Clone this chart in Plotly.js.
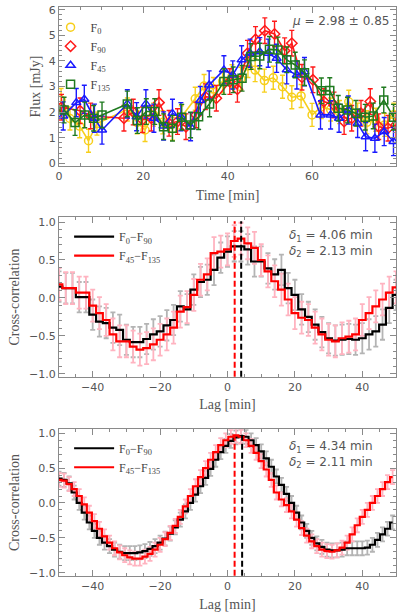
<!DOCTYPE html>
<html><head><meta charset="utf-8">
<script src="https://cdn.plot.ly/plotly-3.0.1.min.js"></script>
<style>html,body{margin:0;padding:0;background:#fff}#chart{width:399px;height:614px}</style>
</head><body><div id="chart"></div>
<script>
// ---------------- data: light curves (top panel) ----------------
const TIME_F0 = [0.5, 2.6, 4.9, 7.0, 9.0, 16.2, 18.5, 20.4, 22.4, 24.6, 26.9, 29.0, 32.3, 34.4, 36.6, 38.8, 41.0, 43.1, 44.8, 46.5, 48.7, 50.8, 53.0, 55.2, 57.4, 60.0, 62.2, 64.4, 66.5, 68.7, 70.8, 73.0, 75.1, 77.2, 79.4];
const FLUX_F0 = [2.47, 1.75, 1.45, 0.88, 1.55, 2.1, 1.6, 1.3, 1.9, 1.6, 1.35, 1.8, 2.52, 3.02, 2.9, 3.2, 3.4, 3.3, 3.8, 3.64, 3.23, 3.34, 2.99, 2.58, 2.63, 1.89, 2.2, 2.1, 2.0, 2.4, 1.9, 1.6, 1.7, 1.5, 1.9];
const TIME_F90 = [0.6, 5.0, 7.5, 15.4, 17.6, 19.8, 21.9, 23.7, 26.1, 28.1, 30.1, 32.5, 34.7, 37.3, 40.5, 42.3, 44.7, 46.6, 48.8, 51.1, 53.5, 55.2, 57.6, 60.2, 62.8, 65.2, 67.6, 69.4, 71.6, 73.8, 75.8, 78.0, 79.9];
const FLUX_F90 = [2.19, 2.05, 1.85, 1.76, 2.0, 1.7, 1.76, 2.37, 1.56, 1.63, 1.43, 1.89, 2.6, 2.54, 3.19, 2.89, 4.3, 4.84, 5.18, 5.05, 4.4, 4.69, 3.36, 3.26, 2.41, 2.28, 1.63, 1.76, 1.95, 2.41, 1.43, 1.37, 1.5];
const TIME_F45 = [1.0, 4.1, 6.0, 8.4, 10.2, 16.2, 18.4, 20.6, 22.5, 24.8, 26.9, 28.9, 31.2, 33.5, 35.6, 39.1, 41.2, 43.3, 45.3, 47.6, 49.6, 51.6, 54.0, 56.4, 58.2, 62.0, 64.4, 66.4, 68.6, 70.8, 72.7, 74.9, 77.1, 79.3];
const FLUX_F45 = [1.85, 2.37, 2.5, 1.76, 1.3, 2.32, 1.82, 2.32, 1.76, 1.46, 1.95, 1.82, 1.43, 2.45, 3.06, 3.65, 3.45, 4.04, 4.3, 4.36, 4.3, 4.1, 3.65, 3.45, 3.58, 1.89, 1.89, 1.76, 2.08, 1.56, 1.04, 0.98, 1.24, 0.85];
const TIME_F135 = [1.2, 3.8, 6.1, 8.2, 10.2, 16.2, 18.6, 20.7, 22.7, 24.8, 26.9, 29.1, 31.2, 33.1, 35.7, 39.1, 41.3, 43.4, 45.5, 47.6, 49.9, 51.9, 54.0, 56.0, 58.2, 62.2, 64.2, 66.2, 68.4, 70.4, 72.6, 74.5, 77.0, 79.3];
const FLUX_F135 = [2.08, 1.59, 1.89, 1.76, 1.89, 2.32, 1.67, 2.02, 2.02, 1.43, 1.37, 1.8, 1.5, 1.82, 2.32, 3.19, 3.26, 3.32, 4.17, 4.19, 4.45, 4.43, 4.04, 3.84, 3.54, 2.83, 2.84, 2.15, 2.08, 1.95, 1.8, 1.85, 2.47, 1.8];
const ERR_F0 = 0.45, ERR_F90 = 0.5, ERR_F45 = 0.55, ERR_F135 = 0.5;
const SERIES_NAMES = ["F<sub>0</sub>", "F<sub>90</sub>", "F<sub>45</sub>", "F<sub>135</sub>"];
const MU_TEXT = "<i>μ</i> = 2.98 ± 0.85";

// ---------------- data: cross-correlation (middle panel) ----------------
const LAG_MID = [-50,-48,-46,-44,-42,-40,-38,-36,-34,-32,-30,-28,-26,-24,-22,-20,-18,-16,-14,-12,-10,-8,-6,-4,-2,0,2,4,6,8,10,12,14,16,18,20,22,24,26,28,30,32,34,36,38,40,42,44,46,48,50];
const CC_MID_A = [0.15,0.13,0.13,0.01,0.01,-0.22,-0.31,-0.33,-0.39,-0.42,-0.55,-0.58,-0.58,-0.54,-0.48,-0.44,-0.36,-0.29,-0.11,-0.15,0.11,0.21,0.24,0.37,0.53,0.61,0.68,0.68,0.64,0.48,0.48,0.39,0.31,0.37,0.13,0.04,-0.15,-0.25,-0.35,-0.45,-0.53,-0.56,-0.55,-0.54,-0.55,-0.53,-0.48,-0.44,-0.35,-0.13,0.04];
const CC_MID_B = [0.18,0.13,0.13,0.07,0.07,-0.10,-0.20,-0.29,-0.48,-0.57,-0.57,-0.64,-0.68,-0.66,-0.61,-0.55,-0.48,-0.39,-0.18,-0.12,0.04,0.24,0.31,0.59,0.61,0.64,0.75,0.78,0.72,0.66,0.50,0.35,0.22,0.11,-0.02,-0.20,-0.26,-0.29,-0.39,-0.48,-0.55,-0.57,-0.53,-0.51,-0.48,-0.29,-0.20,-0.11,-0.02,0.07,0.14];
const ERR_MID_A = 0.2, ERR_MID_B = 0.21;
const DELTA_MID = [4.06, 2.13];

// ---------------- data: cross-correlation (bottom panel) ----------------
const LAG_BOT = [-50,-48.5,-47,-45.5,-44,-42.5,-41,-39.5,-38,-36.5,-35,-33.5,-32,-30.5,-29,-27.5,-26,-24.5,-23,-21.5,-20,-18.5,-17,-15.5,-14,-12.5,-11,-9.5,-8,-6.5,-5,-3.5,-2,-0.5,1,2.5,4,5.5,7,8.5,10,11.5,13,14.5,16,17.5,19,20.5,22,23.5,25,26.5,28,29.5,31,32.5,34,35.5,37,38.5,40,41.5,43,44.5,46,47.5,49];
const CC_BOT_A = [0.35,0.33,0.28,0.15,0.0,-0.14,-0.28,-0.4,-0.5,-0.57,-0.62,-0.67,-0.70,-0.72,-0.72,-0.72,-0.71,-0.69,-0.66,-0.62,-0.57,-0.51,-0.44,-0.35,-0.24,-0.12,0.0,0.12,0.24,0.36,0.49,0.62,0.73,0.82,0.89,0.94,0.96,0.95,0.9,0.83,0.74,0.64,0.52,0.38,0.26,0.13,0.0,-0.14,-0.28,-0.4,-0.5,-0.58,-0.63,-0.67,-0.68,-0.68,-0.67,-0.65,-0.65,-0.65,-0.65,-0.64,-0.6,-0.53,-0.45,-0.37,-0.28];
const CC_BOT_B = [0.33,0.32,0.27,0.2,0.1,-0.02,-0.14,-0.26,-0.37,-0.48,-0.57,-0.65,-0.71,-0.75,-0.78,-0.8,-0.8,-0.77,-0.73,-0.67,-0.6,-0.52,-0.43,-0.33,-0.2,-0.05,0.1,0.24,0.37,0.5,0.62,0.73,0.83,0.9,0.95,0.97,0.95,0.9,0.82,0.72,0.6,0.48,0.33,0.15,0.05,-0.03,-0.12,-0.24,-0.36,-0.47,-0.55,-0.62,-0.67,-0.69,-0.7,-0.68,-0.64,-0.57,-0.45,-0.32,-0.2,-0.1,0.0,0.1,0.2,0.3,0.37];
const ERR_BOT_A = 0.1, ERR_BOT_B = 0.1;
const DELTA_BOT = [4.34, 2.11];
const PAIR_NAMES = ["F<sub>0</sub>−F<sub>90</sub>", "F<sub>45</sub>−F<sub>135</sub>"];

// ---------------- styles ----------------
const YELLOW = "#f7cf1b", RED = "#ff1a1a", BLUE = "#1a1aff", GREEN = "#1f7a1f";
const GREY_TXT = "#555", FRAME = "#8a8a8a";
const SERIF = "Liberation Serif, serif", SANS = "DejaVu Sans, sans-serif";

function lcLine(x, y, color) {
  return {x: x, y: y, type: "scatter", mode: "lines", xaxis: "x", yaxis: "y", showlegend: false,
    line: {color: color, width: 1.6}, hoverinfo: "skip"};
}
function lcMarks(x, y, err, color, symbol, name) {
  return {x: x, y: y, type: "scatter", mode: "markers", name: name, xaxis: "x", yaxis: "y", legend: "legend",
    marker: {symbol: symbol, size: 8, color: color, line: {color: color, width: 1.5}},
    error_y: {type: "data", array: y.map(() => err), color: color, thickness: 1.4, width: 2.5}};
}
function bars(x, y, err, color, ax) {
  return {x: x, y: y, type: "scatter", mode: "markers", xaxis: "x" + ax, yaxis: "y" + ax, showlegend: false,
    marker: {size: 1, color: "rgba(0,0,0,0)"}, hoverinfo: "skip",
    error_y: {type: "data", array: y.map(() => err), color: color, thickness: 1.8, width: 2.5}};
}
function step(x, y, color, name, ax, leg) {
  return {x: x, y: y, type: "scatter", mode: "lines", name: name, xaxis: "x" + ax, yaxis: "y" + ax,
    legend: leg, line: {color: color, width: 2.2, shape: "hvh"}};
}

const data = [
  lcLine(TIME_F0, FLUX_F0, YELLOW), lcMarks(TIME_F0, FLUX_F0, ERR_F0, YELLOW, "circle-open", SERIES_NAMES[0]),
  lcLine(TIME_F90, FLUX_F90, RED), lcMarks(TIME_F90, FLUX_F90, ERR_F90, RED, "diamond-open", SERIES_NAMES[1]),
  lcLine(TIME_F45, FLUX_F45, BLUE), lcMarks(TIME_F45, FLUX_F45, ERR_F45, BLUE, "triangle-up-open", SERIES_NAMES[2]),
  lcLine(TIME_F135, FLUX_F135, GREEN), lcMarks(TIME_F135, FLUX_F135, ERR_F135, GREEN, "square-open", SERIES_NAMES[3]),
  bars(LAG_MID, CC_MID_A, ERR_MID_A, "#b4b4b4", "2"),
  bars(LAG_MID, CC_MID_B, ERR_MID_B, "#ffb3c0", "2"),
  step(LAG_MID, CC_MID_A, "#000000", PAIR_NAMES[0], "2", "legend2"),
  step(LAG_MID, CC_MID_B, "#ff0000", PAIR_NAMES[1], "2", "legend2"),
  bars(LAG_BOT, CC_BOT_A, ERR_BOT_A, "#b4b4b4", "3"),
  bars(LAG_BOT, CC_BOT_B, ERR_BOT_B, "#ffb3c0", "3"),
  step(LAG_BOT, CC_BOT_A, "#000000", PAIR_NAMES[0], "3", "legend3"),
  step(LAG_BOT, CC_BOT_B, "#ff0000", PAIR_NAMES[1], "3", "legend3")
];

const tickFont = {family: SANS, size: 11, color: GREY_TXT};
const titleFont = {family: SERIF, size: 14, color: GREY_TXT};
function xax(range, domainAnchor, title, dminor, standoff) {
  return {range: range, anchor: domainAnchor, domain: [0, 1], showline: true, linecolor: FRAME, linewidth: 1,
    mirror: "ticks", ticks: "inside", ticklen: 6, tickcolor: FRAME, tickmode: "linear", tick0: 0, dtick: 20,
    minor: {ticks: "inside", ticklen: 3, tickcolor: FRAME, dtick: dminor},
    showgrid: false, zeroline: false, tickfont: tickFont, title: {text: title, font: titleFont, standoff: standoff}};
}
function yax(range, domain, anchor, title, dtick, dminor, fmt, standoff) {
  return {range: range, domain: domain, anchor: anchor, showline: true, linecolor: FRAME, linewidth: 1,
    mirror: "ticks", ticks: "inside", ticklen: 6, tickcolor: FRAME, tickmode: "linear", tick0: 0, dtick: dtick,
    tickformat: fmt, minor: {ticks: "inside", ticklen: 3, tickcolor: FRAME, dtick: dminor},
    showgrid: false, zeroline: false, tickfont: tickFont, title: {text: title, font: titleFont, standoff: standoff}};
}

function vline(xv, color, ax) {
  return {type: "line", xref: "x" + ax, yref: "y" + ax + " domain", x0: xv, x1: xv, y0: 0, y1: 0.975,
    line: {color: color, width: 2, dash: "6px,3px"}};
}
const annFont = {family: SANS, size: 12, color: GREY_TXT};
function deltaText(d) {
  return "<i>δ</i><sub>1</sub> = " + d[0].toFixed(2) + " min<br><i>δ</i><sub>2</sub> = " + d[1].toFixed(2) + " min";
}

const layout = {
  width: 399, height: 614, margin: {l: 59, r: 3, t: 7, b: 38},
  paper_bgcolor: "#fff", plot_bgcolor: "#fff", showlegend: true,
  font: {family: SANS, color: GREY_TXT},
  xaxis: xax([0, 79.9], "y", "Time [min]", 5, 8),
  yaxis: yax([-0.094, 6.094], [0.7211, 0.9995], "x", "Flux [mJy]", 1, 0.2, "d", 4),
  xaxis2: xax([-50, 50], "y2", "Lag [min]", 5, 6),
  yaxis2: yax([-1.036, 1.062], [0.3503, 0.6304], "x2", "Cross-correlation", 0.5, 0.1, ".1f", 6),
  xaxis3: xax([-50, 50], "y3", "Lag [min]", 5, 7),
  yaxis3: yax([-1.044, 1.057], [0.0005, 0.2578], "x3", "Cross-correlation", 0.5, 0.1, ".1f", 6),
  legend: {x: -0.025, y: 0.99, xanchor: "left", yanchor: "top", bgcolor: "rgba(0,0,0,0)",
    font: {family: SERIF, size: 12, color: "#444"}, itemwidth: 30, tracegroupgap: 0},
  legend2: {x: 0.03, y: 0.622, xanchor: "left", yanchor: "top", bgcolor: "rgba(0,0,0,0)",
    font: {family: SERIF, size: 12, color: "#444"}, itemwidth: 40},
  legend3: {x: 0.03, y: 0.25, xanchor: "left", yanchor: "top", bgcolor: "rgba(0,0,0,0)",
    font: {family: SERIF, size: 12, color: "#444"}, itemwidth: 40},
  shapes: [
    vline(DELTA_MID[0], "#000", "2"), vline(DELTA_MID[1], "#ff0000", "2"),
    vline(DELTA_BOT[0], "#000", "3"), vline(DELTA_BOT[1], "#ff0000", "3")
  ],
  annotations: [
    {xref: "paper", yref: "paper", x: 0.985, y: (576 - 21) / 569, xanchor: "right", yanchor: "middle",
      text: MU_TEXT, showarrow: false, font: annFont},
    {xref: "paper", yref: "paper", x: (287 - 59) / 337, y: (576 - 243) / 569, xanchor: "left", yanchor: "middle",
      align: "left", text: deltaText(DELTA_MID), showarrow: false, font: annFont},
    {xref: "paper", yref: "paper", x: (287 - 59) / 337, y: (576 - 454) / 569, xanchor: "left", yanchor: "middle",
      align: "left", text: deltaText(DELTA_BOT), showarrow: false, font: annFont}
  ]
};

Plotly.newPlot("chart", data, layout, {displayModeBar: false, staticPlot: true});
</script>
</body></html>
